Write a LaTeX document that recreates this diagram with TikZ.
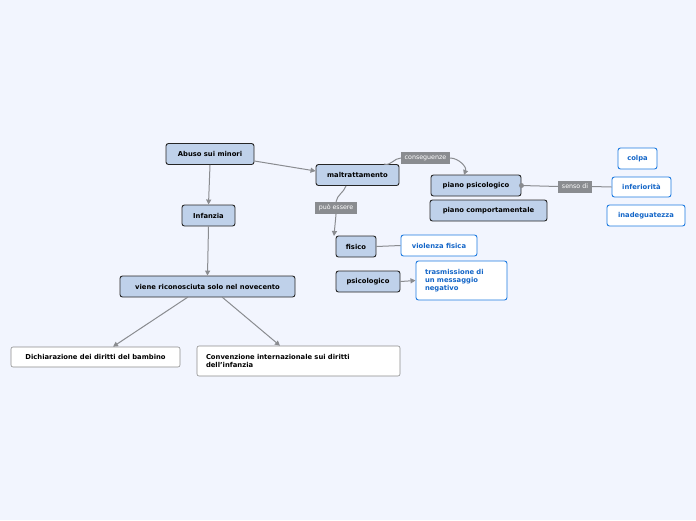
\documentclass[tikz,border=0pt]{standalone}
\usepackage{fontspec}
\setmainfont{DejaVu Sans}
\usetikzlibrary{arrows.meta,positioning,calc}
\definecolor{bgcol}{HTML}{F2F5FE}
\definecolor{topicfill}{HTML}{BFD1EA}
\definecolor{linkcol}{HTML}{8A8C90}
\definecolor{bluecol}{HTML}{1E7BE0}
\definecolor{bluetext}{HTML}{1466C8}

\begin{document}
\begin{tikzpicture}[x=1pt, y=-1pt,
    topic/.style={rectangle, draw=black!85, line width=0.9pt, fill=topicfill, rounded corners=2.5pt, minimum height=21pt, inner sep=2pt, font=\fontsize{6.8}{7.8}\selectfont\bfseries},
    leaf/.style={rectangle, draw=bluecol, line width=0.9pt, fill=white, rounded corners=2.5pt, minimum height=21pt, inner sep=2pt, text=bluetext, font=\fontsize{6.8}{7.8}\selectfont\bfseries},
    plain/.style={rectangle, draw=black!45, line width=0.6pt, fill=white, rounded corners=2pt, minimum height=20pt, inner sep=2pt, font=\fontsize{6.8}{7.8}\selectfont\bfseries},
    tag/.style={rectangle, fill=linkcol, text=white, inner xsep=3.5pt, inner ysep=1.5pt, minimum height=12pt, font=\fontsize{6.3}{7}\selectfont},
    arrow/.style={-{Triangle[length=5pt, width=5pt]}, draw=linkcol, line width=1pt},
    link/.style={draw=linkcol, line width=1pt}
]

% Background
\fill[bgcol] (0,0) rectangle (696,520);

% Main topics
\node[topic, minimum width=88pt] (abuso) at (210,154) {Abuso sui minori};
\node[topic, minimum width=83pt] (maltr) at (357.5,175) {maltrattamento};
\node[topic, minimum width=53pt] (infanzia) at (208.5,215.5) {Infanzia};
\node[topic, minimum width=175pt] (viene) at (207.5,286.5) {viene riconosciuta solo nel novecento};

% Documents
\node[plain, minimum width=169pt] (dich) at (95.5,357) {Dichiarazione dei diritti del bambino};
\node[plain, minimum width=203pt, minimum height=30pt, text width=185pt, align=left] (conv) at (298.5,361) {Convenzione internazionale sui diritti\\dell'infanzia};

% Consequences
\node[topic, minimum width=90pt] (ppsico) at (476,185.5) {piano psicologico};
\node[topic, minimum width=117pt] (pcomp) at (488.5,210.5) {piano comportamentale};
\node[topic, minimum width=40pt] (fisico) at (356,246.5) {fisico};
\node[topic, minimum width=64pt] (psico) at (368,281.5) {psicologico};

% Leaves
\node[leaf, minimum width=76pt] (violenza) at (439,245.5) {violenza fisica};
\node[leaf, minimum width=91pt, minimum height=39pt, text width=73pt, align=left] (trasm) at (461.5,280.5) {trasmissione di\\un messaggio\\negativo};
\node[leaf, minimum width=39pt] (colpa) at (637.5,158.5) {colpa};
\node[leaf, minimum width=59pt, minimum height=20pt] (inferiorita) at (641.5,187) {inferiorità};
\node[leaf, minimum width=78pt] (inadeg) at (646,215.5) {inadeguatezza};

% Link labels
\node[tag] (conseg) at (425.5,158) {conseguenze};
\node[tag] (puo) at (336,208) {può essere};
\node[tag] (senso) at (575,186.5) {senso di};

% Connections
\draw[arrow] (abuso.east |- 0,161) -- (maltr.west |- 0,171);
\draw[arrow] (abuso.south) -- (infanzia.north);
\draw[arrow] (infanzia.south) -- (viene.north);
\draw[arrow] (188,297) -- (dich.north -| 113,0);
\draw[arrow] (222,297) -- (conv.north -| 280,0);
\draw[link] (384,164) to[out=-20, in=180] (conseg.west);
\draw[arrow] (conseg.east) to[out=0, in=70] (464,175);
\draw[link] (346,186) to[out=-110, in=80] (puo.north);
\draw[arrow] (puo.south) to[out=-95, in=85] (334,236);
\draw[link] (fisico.east) -- (violenza.west);
\draw[arrow] (psico.east) -- (trasm.west);
\draw[link] (ppsico.east) -- (senso.west);
\draw[link] (senso.east) -- (inferiorita.west);
\fill[linkcol] (ppsico.east) circle (2.5pt);

\end{tikzpicture}
\end{document}
